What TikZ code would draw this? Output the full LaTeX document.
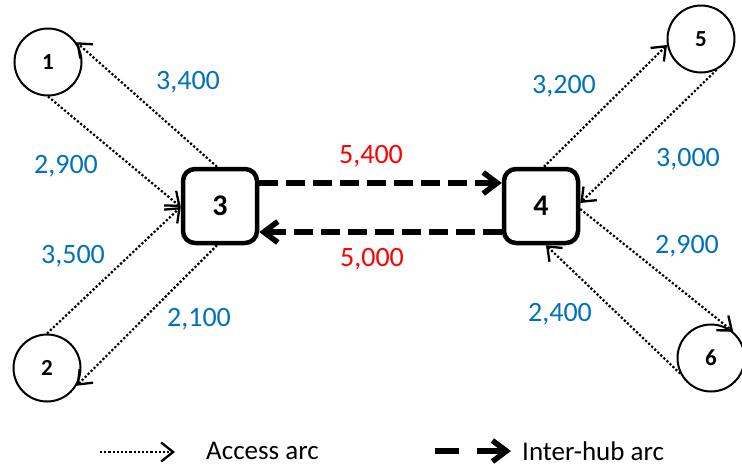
\documentclass[tikz,border=0pt]{standalone}
\usepackage{fontspec}
\setmainfont{Carlito}
\usetikzlibrary{arrows.meta}

\definecolor{arcblue}{RGB}{0,112,192}
\definecolor{hubred}{RGB}{255,0,0}

\begin{document}
\begin{tikzpicture}[
        x=1pt, y=-1pt,
        hub/.style={draw, line width=4.5pt, rounded corners=12pt, minimum size=74pt,
            inner sep=0pt, font=\fontsize{30}{30}\selectfont\bfseries},
        spoke/.style={circle, draw, line width=2pt, minimum size=67pt,
            inner sep=0pt, font=\fontsize{23}{23}\selectfont\bfseries},
        access/.style={line width=2.2pt, dash pattern=on 2.2pt off 2pt,
            -{Straight Barb[length=12pt, width=19pt, line width=2.3pt]}},
        interhub/.style={line width=5.5pt, dash pattern=on 19pt off 8pt,
            -{Straight Barb[length=14pt, width=21pt, line width=5.5pt]}},
        cost/.style={font=\fontsize{28}{28}\selectfont, text=arcblue, inner sep=0pt},
        legtext/.style={font=\fontsize{27}{27}\selectfont, inner sep=0pt, anchor=west},
    ]
        \useasboundingbox (0,0) rectangle (742,474);

        % Hubs and spokes
        \node[hub] (n3) at (220,206) {3};
        \node[hub] (n4) at (541,206) {4};
        \node[spoke] (n1) at (48,62) {1};
        \node[spoke] (n2) at (47,368) {2};
        \node[spoke] (n5) at (701,39) {5};
        \node[spoke] (n6) at (711,358) {6};

        % Access arcs
        \draw[access] (n1.south) -- ([yshift=-1pt]n3.west);
        \draw[access] ([xshift=-3pt]n3.north) -- (n1.35);
        \draw[access] (n2.north) -- ([yshift=-1pt]n3.west);
        \draw[access] ([xshift=-3pt]n3.south) -- (n2.-31);
        \draw[access] ([xshift=3pt]n4.north) -- (n5.190);
        \draw[access] (n5.-63) -- ([yshift=3pt]n4.east);
        \draw[access] ([yshift=-3pt]n4.east) -- (n6.50);
        \draw[access] (n6.207) -- ([xshift=5pt]n4.south);

        % Inter-hub arcs
        \draw[interhub] ([yshift=23pt]n3.east) -- ([yshift=23pt]n4.west);
        \draw[interhub] ([yshift=-26pt]n4.west) -- ([yshift=-26pt]n3.east);

        % Arc costs
        \foreach \name/\x/\y/\txt in {
            c31/188/82/{3,400},
            c13/66/166/{2,900},
            c23/73/256/{3,500},
            c32/199/319/{2,100},
            c45/564/86/{3,200},
            c54/688/159/{3,000},
            c46/687/246/{2,900},
            c64/560/314/{2,400}
        } {
            \node[cost] (\name) at (\x,\y) {\txt};
        }
        \node[cost, text=hubred] (c34) at (371,156) {5,400};
        \node[cost, text=hubred] (c43) at (372,259) {5,000};

        % Legend
        \coordinate (accA) at (100,452);
        \coordinate (accB) at (175,452);
        \draw[access] (accA) -- (accB);
        \node[legtext] (accT) at (206,451) {Access arc};
        \coordinate (hubA) at (435,451);
        \coordinate (hubB) at (511,451);
        \draw[interhub, dash pattern=on 24pt off 18pt] (hubA) -- (hubB);
        \node[legtext] (hubT) at (522,451) {Inter-hub arc};
    \end{tikzpicture}
\end{document}
